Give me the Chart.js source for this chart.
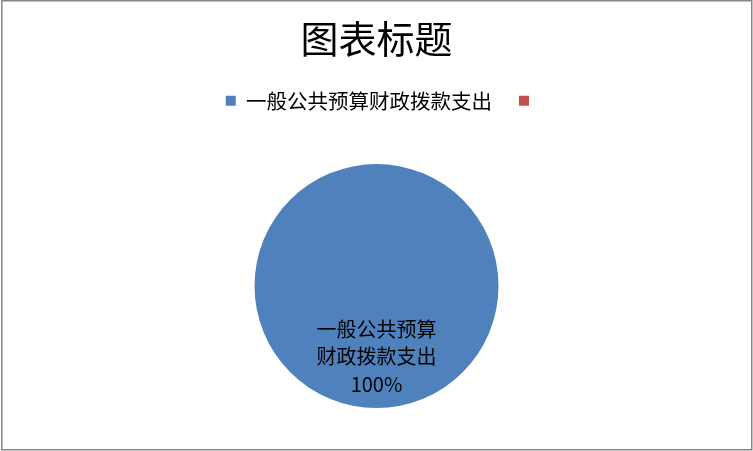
<!DOCTYPE html>
<html><head><meta charset="utf-8">
<script src="https://cdn.jsdelivr.net/npm/chart.js@4/dist/chart.umd.min.js"></script>
<style>html,body{margin:0;padding:0;background:#fff}#wrap{position:absolute;left:0;top:0;width:753px;height:451px}</style>
</head><body><div id="wrap"><canvas id="c" width="753" height="451"></canvas></div>
<script>
const chartTitle = '图表标题';
const categories = ['一般公共预算财政拨款支出', ''];
const values = [100, 0];
const dataLabelLines = ['一般公共预算', '财政拨款支出', '100%'];
const colors = ['#4F81BD', '#C0504D'];
const FONT = "'Noto Sans CJK SC', 'Noto Sans', sans-serif";

const borderPlugin = {
  id: 'frame',
  beforeDraw(chart) {
    const lg = chart.legend;
    if (lg && !lg._shifted) {
      const orig = lg.draw.bind(lg);
      lg.draw = function () {
        const ctx = chart.ctx;
        ctx.save();
        ctx.translate(6, 0);
        orig();
        ctx.restore();
      };
      lg._shifted = true;
    }
  },
  afterDraw(chart) {
    const ctx = chart.ctx;
    ctx.save();
    ctx.strokeStyle = '#868686';
    ctx.lineWidth = 1.5;
    ctx.strokeRect(1.75, 0.75, 750, 449);
    ctx.restore();
  }
};
const labelPlugin = {
  id: 'sliceLabel',
  afterDatasetsDraw(chart) {
    const arc = chart.getDatasetMeta(0).data[0];
    const cx = arc.x, cy = arc.y, r = arc.outerRadius;
    const mid = (arc.startAngle + arc.endAngle) / 2;
    const ctx = chart.ctx;
    ctx.save();
    ctx.fillStyle = '#000';
    ctx.font = '20px ' + FONT;
    ctx.textAlign = 'center';
    ctx.textBaseline = 'middle';
    const px = cx + Math.cos(mid) * r * 0.58;
    const py = cy + Math.sin(mid) * r * 0.58;
    const lh = 27.5;
    dataLabelLines.forEach((t, i) => ctx.fillText(t, px, py + (i - 1) * lh));
    ctx.restore();
  }
};

new Chart(document.getElementById('c'), {
  type: 'pie',
  data: { labels: categories, datasets: [{ data: values, backgroundColor: colors, borderWidth: 0, radius: 122 }] },
  options: {
    responsive: false,
    animation: false,
    devicePixelRatio: 1,
    layout: { padding: { top: 16, bottom: 0, left: 0, right: 0 } },
    plugins: {
      title: { display: true, text: chartTitle, color: '#000', font: { family: FONT, size: 38, weight: 'normal' }, padding: { top: 0, bottom: 2 } },
      legend: { position: 'top', labels: { boxWidth: 10, boxHeight: 10, color: '#000', font: { family: FONT, size: 20.5 }, padding: 27 } },
      tooltip: { enabled: false }
    }
  },
  plugins: [borderPlugin, labelPlugin]
});
</script></body></html>
